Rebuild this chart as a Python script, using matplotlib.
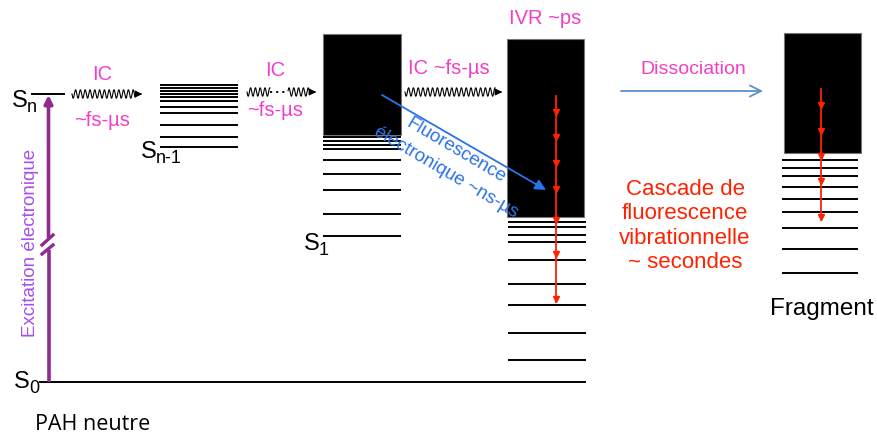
import matplotlib.pyplot as plt
import numpy as np

plt.rcParams['font.family'] = ['Liberation Sans', 'DejaVu Sans']

# niveaux d'energie (position verticale en pixels, y vers le bas)
sn_level = 94
sn1_levels = [85, 88, 91, 94, 97, 101, 107, 113, 125, 137, 147]
s1_levels = [137, 141, 145, 149, 160, 174, 190, 214, 236]
ivr_levels = [222, 227, 235, 242, 260, 284, 305, 333, 360]
frag_levels = [160, 168, 176, 187, 199, 212, 228, 249, 273]
s0_level = 382

# cascades radiatives (arrivees des fleches)
ivr_cascade = [115, 140, 166, 192, 223, 257, 302]
frag_cascade = [108, 134, 159, 184, 220]

pink = '#f23fc8'
red = '#ff2200'
blue = '#2a72e8'

fig = plt.figure(figsize=(8.77, 4.33), dpi=100)
ax = fig.add_axes([0, 0, 1, 1])
ax.set_xlim(0, 877)
ax.set_ylim(433, 0)
ax.axis('off')


def levels(x0, x1, ys):
    for y in ys:
        ax.plot([x0, x1], [y, y], color='black', lw=1.4, solid_capstyle='butt')


def wave(x0, x1, y, period=4.8, amp=4.2, gap=None):
    x = np.linspace(x0, x1, 800)
    yy = y + amp * np.sin(2 * np.pi * (x - x0) / period)
    if gap is not None:
        yy = np.where((x > gap[0]) & (x < gap[1]), np.nan, yy)
        ax.plot(gap, [y, y], color='black', lw=1.3, ls=(0, (1.2, 2.2)))
    ax.plot(x, yy, color='black', lw=0.8)
    ax.plot([x1, x1 + 4], [y, y], color='black', lw=0.9)
    ax.annotate('', xy=(x1 + 10, y), xytext=(x1 + 2, y),
                arrowprops=dict(arrowstyle='-|>', color='black', lw=0.9,
                                mutation_scale=10))


def cascade(x, y0, stops):
    ax.plot([x, x], [y0, stops[-1]], color=red, lw=1.3)
    ax.plot([x] * len(stops), [s - 3 for s in stops], ls='none', marker='v',
            ms=5, color=red, mec=red)


def sub_label(x, y, main, sub):
    ax.text(x, y, main, fontsize=17, ha='left', va='baseline')
    ax.text(x + 15, y + 5, sub, fontsize=13, ha='left', va='baseline')


# S0 et excitation
ax.plot([40, 585], [s0_level, s0_level], color='black', lw=1.4)
ax.plot([32, 64], [sn_level, sn_level], color='black', lw=1.4)
purple = '#8f2a8f'
ax.plot([48.5, 48.5], [s0_level, 250], color=purple, lw=2.6, solid_capstyle='butt')
ax.annotate('', xy=(48.5, sn_level + 1), xytext=(48.5, 237),
            arrowprops=dict(arrowstyle='-|>', color=purple, lw=2.6,
                            mutation_scale=12, shrinkA=0, shrinkB=0))
ax.plot([42, 53], [245, 235], color=purple, lw=2.4)
ax.plot([42, 53], [254, 245], color=purple, lw=2.4)
ax.text(31, 243, 'Excitation électronique', rotation=90, fontsize=13.5,
        color='#a64df0', ha='center', va='center')

sub_label(12, 107, 'S', 'n')
sub_label(141, 158, 'S', 'n-1')
sub_label(304, 250, 'S', '1')
sub_label(14, 388, 'S', '0')

# Sn-1
levels(160, 238, sn1_levels)
wave(72, 135, 94)
ax.text(102, 74, 'IC', color=pink, fontsize=14.5, ha='center', va='center')
ax.text(102, 120, '~fs-µs', color=pink, fontsize=14.5, ha='center', va='center')

# S1
wave(247, 309, 92, gap=(270, 288))
ax.text(275, 70, 'IC', color=pink, fontsize=14.5, ha='center', va='center')
ax.text(275, 110, '~fs-µs', color=pink, fontsize=14.5, ha='center', va='center')
ax.add_patch(plt.Rectangle((323, 34), 78, 101, facecolor='black',
                           edgecolor='#777777', lw=0.8))
levels(323, 401, s1_levels)

# IVR
wave(405, 495, 92)
ax.text(449, 68, 'IC ~fs-µs', color=pink, fontsize=14.5, ha='center', va='center')
ax.text(545, 18, 'IVR ~ps', color=pink, fontsize=14.5, ha='center', va='center')
ax.add_patch(plt.Rectangle((507, 39), 77, 178, facecolor='black',
                           edgecolor='#777777', lw=0.8))
levels(508, 586, ivr_levels)
cascade(556, 96, ivr_cascade)

# fluorescence electronique
ax.annotate('', xy=(546, 190), xytext=(382, 95),
            arrowprops=dict(arrowstyle='-|>', color=blue, lw=1.3,
                            mutation_scale=16, shrinkA=0, shrinkB=0))
ax.text(456, 151, 'Fluorescence', rotation=-30.5, rotation_mode='anchor',
        color=blue, fontsize=13.5, ha='center', va='center')
ax.text(446, 172, 'électronique ~ns-µs', rotation=-30.5, rotation_mode='anchor',
        color=blue, fontsize=13.5, ha='center', va='center')

# dissociation et fragment
ax.annotate('', xy=(763, 91), xytext=(621, 91),
            arrowprops=dict(arrowstyle='->', color='#5b8fd0', lw=1.3,
                            mutation_scale=20, shrinkA=0, shrinkB=0))
ax.text(693, 69, 'Dissociation', color=pink, fontsize=14, ha='center', va='center')
ax.add_patch(plt.Rectangle((784, 33), 77, 120, facecolor='black',
                           edgecolor='#777777', lw=0.8))
levels(782, 858, frag_levels)
cascade(821, 89, frag_cascade)

ax.text(685, 226, 'Cascade de\nfluorescence\nvibrationnelle\n~ secondes',
        color=red, fontsize=16, ha='center', va='center', linespacing=1.2)
ax.text(822, 309, 'Fragment', fontsize=17.5, ha='center', va='center')
ax.text(35, 424, 'PAH neutre', fontsize=15.5, family=['Open Sans', 'DejaVu Sans'],
        ha='left', va='center')

fig.savefig('out.png', dpi=100)
